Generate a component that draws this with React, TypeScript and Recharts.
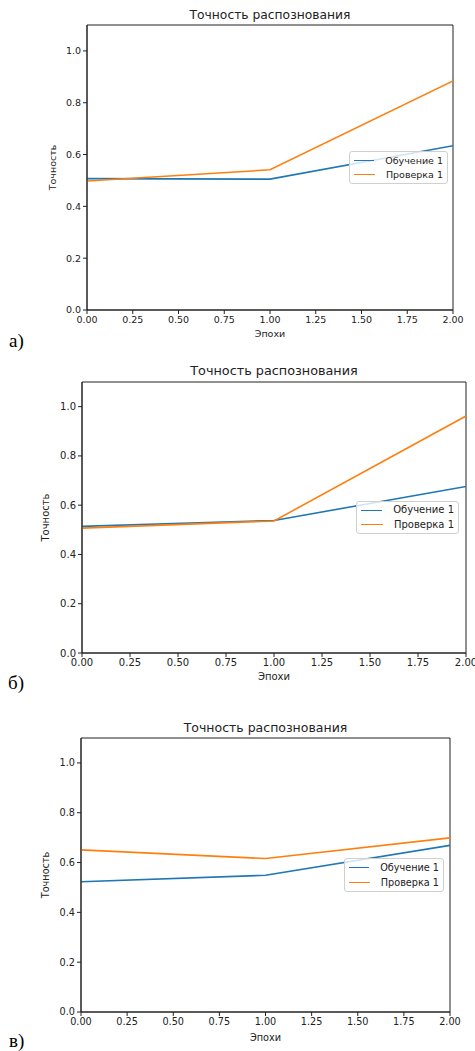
import React from 'react';
import { LineChart, Line, XAxis, YAxis, Legend, ReferenceArea, Label } from 'recharts';

const epochs = [0, 1, 2];
const trainA = [0.507, 0.505, 0.634];
const valA = [0.498, 0.541, 0.884];
const trainB = [0.514, 0.538, 0.676];
const valB = [0.507, 0.536, 0.962];
const trainC = [0.523, 0.549, 0.669];
const valC = [0.651, 0.616, 0.699];
const xTicks = [0, 0.25, 0.5, 0.75, 1, 1.25, 1.5, 1.75, 2];
const yTicks = [0, 0.2, 0.4, 0.6, 0.8, 1.0];
const seriesNames = ['Обучение 1', 'Проверка 1'];
const titleText = 'Точность распознования';
const xLabelText = 'Эпохи';
const yLabelText = 'Точность';
const panelLetters = ['а)', 'б)', 'в)'];

const BLUE = '#1f77b4';
const ORANGE = '#ff7f0e';
const FONT = '"DejaVu Sans", sans-serif';
const INK = '#222';

type Geo = {
  left: number; right: number; top: number; bottom: number;
  font: number; titleFont: number;
  titleY: number; xLabDy: number; yLabX: number;
  legX: number; legY: number; legW: number; legH: number;
  letterX: number; letterY: number;
};

const geos: Geo[] = [
  { left: 87, right: 453, top: 25, bottom: 310, font: 9.5, titleFont: 12.3, titleY: 15, xLabDy: 27, yLabX: 53, legX: 349, legY: 151, legW: 99, legH: 33, letterX: 9, letterY: 341 },
  { left: 82, right: 466, top: 382, bottom: 653, font: 10, titleFont: 12.8, titleY: 371, xLabDy: 27, yLabX: 45, legX: 356, legY: 501, legW: 103, legH: 33, letterX: 8, letterY: 683 },
  { left: 81, right: 450, top: 738, bottom: 1012, font: 9.7, titleFont: 12.5, titleY: 727, xLabDy: 29, yLabX: 46, legX: 344, legY: 858, legW: 100, legH: 34, letterX: 9, letterY: 1041 },
];

function LegendBox({ payload, font, w, h }: any) {
  const items = (payload || []).filter((p: any) => p.type !== 'none');
  return (
    <div style={{
      boxSizing: 'border-box', width: w, height: h,
      background: 'rgba(255,255,255,0.8)', border: '1px solid #d0d0d0', borderRadius: 3,
      padding: '1px 4px', fontFamily: FONT, fontSize: font, color: INK,
      display: 'flex', flexDirection: 'column', justifyContent: 'space-around',
    }}>
      {items.map((p: any, i: number) => (
        <div key={i} style={{ display: 'flex', alignItems: 'center', whiteSpace: 'nowrap', lineHeight: 1 }}>
          <span style={{ display: 'inline-block', width: 22, height: 0, borderTop: `1.6px solid ${p.color}`, marginRight: 11 }} />
          <span>{p.value}</span>
        </div>
      ))}
    </div>
  );
}

function Panel({ geo, train, val, letter }: { geo: Geo; train: number[]; val: number[]; letter: string }) {
  const marginTop = 30;
  const axisH = 42;
  const chartTop = geo.top - marginTop;
  const height = marginTop + (geo.bottom - geo.top) + axisH;
  const data = epochs.map((e, i) => ({ epoch: e, train: train[i], val: val[i] }));
  return (
    <>
      <div style={{ position: 'absolute', left: 0, top: chartTop }}>
        <LineChart width={475} height={height} data={data}
          margin={{ top: marginTop, right: 475 - geo.right, bottom: 0, left: 0 }}
          style={{ overflow: 'visible' }}>
          <XAxis dataKey="epoch" type="number" domain={[0, 2]} ticks={xTicks} interval={0}
            tickFormatter={(v: number) => v.toFixed(2)} height={axisH} tickSize={4} tickMargin={2}
            stroke={INK} tick={{ fill: INK, fontSize: geo.font, fontFamily: FONT }} allowDataOverflow>
            <Label content={(p: any) => {
              const vb = p.viewBox || {};
              return (
                <text x={vb.x + vb.width / 2} y={vb.y + geo.xLabDy} textAnchor="middle"
                  fill={INK} fontSize={geo.font} fontFamily={FONT}>{xLabelText}</text>
              );
            }} />
          </XAxis>
          <YAxis type="number" domain={[0, 1.1]} ticks={yTicks} interval={0}
            tickFormatter={(v: number) => v.toFixed(1)} width={geo.left} tickSize={4} tickMargin={2}
            stroke={INK} tick={{ fill: INK, fontSize: geo.font, fontFamily: FONT }} allowDataOverflow>
            <Label value={yLabelText} position="insideLeft" offset={geo.yLabX} angle={-90}
              style={{ fill: INK, fontSize: geo.font, fontFamily: FONT, textAnchor: 'middle' }} />
          </YAxis>
          <ReferenceArea x1={0} x2={2} y1={0} y2={1.1} fill="none" stroke={INK} strokeWidth={1} ifOverflow="visible" />
          <Line type="linear" dataKey="train" name={seriesNames[0]} stroke={BLUE} strokeWidth={1.6} dot={false} isAnimationActive={false} />
          <Line type="linear" dataKey="val" name={seriesNames[1]} stroke={ORANGE} strokeWidth={1.6} dot={false} isAnimationActive={false} />
          <Legend layout="vertical" verticalAlign="middle" align="center"
            wrapperStyle={{ left: geo.legX, top: geo.legY - chartTop, width: geo.legW, height: geo.legH }}
            content={(props: any) => <LegendBox payload={props.payload} font={geo.font} w={geo.legW} h={geo.legH} />} />
        </LineChart>
      </div>
      <div style={{
        position: 'absolute', left: geo.left, width: geo.right - geo.left, top: geo.titleY - geo.titleFont * 0.6,
        textAlign: 'center', fontFamily: FONT, fontSize: geo.titleFont, color: INK, lineHeight: 1.2, whiteSpace: 'nowrap',
      }}>{titleText}</div>
      <div style={{
        position: 'absolute', left: geo.letterX, top: geo.letterY - 11,
        fontFamily: '"Liberation Serif", "Times New Roman", serif', fontSize: 19, color: '#000', lineHeight: 1.15,
      }}>{letter}</div>
    </>
  );
}

export default function App() {
  return (
    <div style={{ position: 'absolute', left: 0, top: 0, width: 475, height: 1051, background: '#fff', overflow: 'hidden' }}>
      <Panel geo={geos[0]} train={trainA} val={valA} letter={panelLetters[0]} />
      <Panel geo={geos[1]} train={trainB} val={valB} letter={panelLetters[1]} />
      <Panel geo={geos[2]} train={trainC} val={valC} letter={panelLetters[2]} />
    </div>
  );
}
